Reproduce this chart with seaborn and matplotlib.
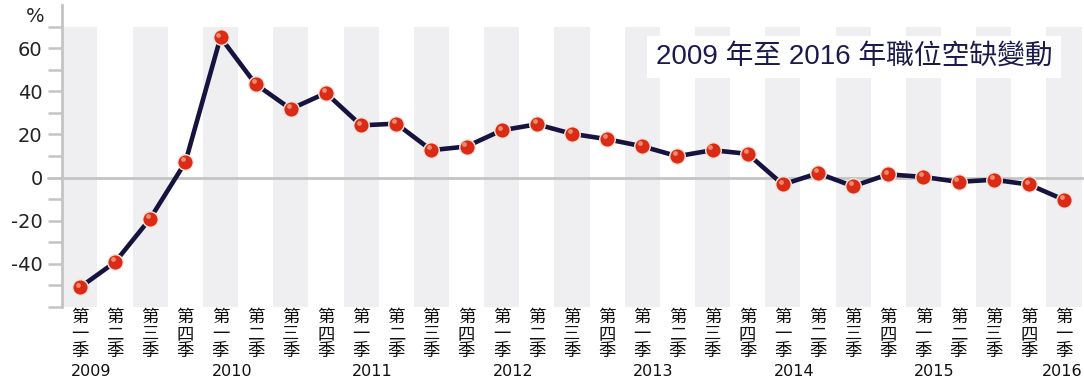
import numpy as np
import pandas as pd
import seaborn as sns
import matplotlib.pyplot as plt
from matplotlib.transforms import blended_transform_factory

# DATA
years = ["2009", "2010", "2011", "2012", "2013", "2014", "2015", "2016"]
quarter_names = ["一", "二", "三", "四"]
values = [-50.9, -39.2, -19.0, 7.1,
          65.0, 43.3, 31.8, 39.2,
          24.2, 25.0, 12.7, 14.4,
          21.9, 24.7, 20.3, 17.8,
          14.5, 9.9, 12.7, 11.0,
          -3.2, 2.0, -4.0, 1.5,
          0.3, -2.0, -1.0, -3.2,
          -10.3]
title_text = "2009 年至 2016 年職位空缺變動"

n = len(values)
quarter_labels = ["第\n" + quarter_names[i % 4] + "\n季" for i in range(n)]
df = pd.DataFrame({"idx": np.arange(n), "value": values})

# STYLE
sns.set_style("white")
plt.rcParams["font.family"] = ["DejaVu Sans", "Noto Sans CJK TC"]

NAVY = "#17133f"
AXIS_GRAY = "#c4c4c4"
BAND = "#efeff2"

fig = plt.figure(figsize=(10.84, 3.84), dpi=100)
ax = fig.add_axes([62 / 1084, 77 / 384, 1 - 62 / 1084, 302 / 384])

# alternating background bands
for i in range(0, n, 2):
    ax.add_patch(plt.Rectangle((i - 0.5, -60), 1.0, 130, color=BAND, lw=0, zorder=0))

ax.axhline(0, color=AXIS_GRAY, lw=2, zorder=1, clip_on=False, xmin=-14 / 1022)

sns.lineplot(data=df, x="idx", y="value", ax=ax, color=NAVY, lw=3.3, zorder=3)
sns.scatterplot(data=df, x="idx", y="value", ax=ax, s=125, color="#d92b16",
                edgecolor="#f4e6dc", linewidth=1.0, zorder=4)
# small highlight to hint the glossy balls
ax.scatter(df["idx"] - 0.06, df["value"] + 1.3, s=12, color="#f08a6a", lw=0, zorder=5)

ax.set_xlim(-0.51, 28.57)
ax.set_ylim(-60, 80)

yt = list(range(-60, 80, 10))
ax.set_yticks(yt)
ax.set_yticklabels([str(v) if v in (60, 40, 20, 0, -20, -40) else "" for v in yt],
                   fontsize=14, color="#222222")
ax.tick_params(axis="y", length=10, width=1.8, color=AXIS_GRAY, pad=4, left=True)

ax.set_xticks(range(n))
ax.set_xticklabels(quarter_labels, fontsize=12.5, linespacing=0.93, color="#111111",
                   family=["Noto Sans CJK TC", "DejaVu Sans"])
ax.tick_params(axis="x", length=0, pad=1)

for s in ["top", "right", "bottom"]:
    ax.spines[s].set_visible(False)
ax.spines["left"].set_color(AXIS_GRAY)
ax.spines["left"].set_linewidth(2)
ax.set_xlabel("")
ax.set_ylabel("")

# year labels under each first quarter
trans = blended_transform_factory(ax.transData, fig.transFigure)
for k, yr in enumerate(years):
    i = k * 4
    if i == n - 1:
        ax.text(i + 0.52, 12 / 384, yr, transform=trans, ha="right", va="center",
                fontsize=11.5, color="#111111")
    else:
        ax.text(i + 0.32, 12 / 384, yr, transform=trans, ha="center", va="center",
                fontsize=11.5, color="#111111")

fig.text(35 / 1084, 1 - 16 / 384, "%", ha="center", va="center", fontsize=14, color="#222222")

ax.text(0.775, 0.828, title_text, transform=ax.transAxes, ha="center", va="center",
        fontsize=20, color="#1c1a4c",
        family=["Liberation Sans", "Noto Sans CJK TC"],
        bbox=dict(facecolor="white", edgecolor="none", pad=6), zorder=6)

plt.savefig("out.png", dpi=100)
plt.close()
